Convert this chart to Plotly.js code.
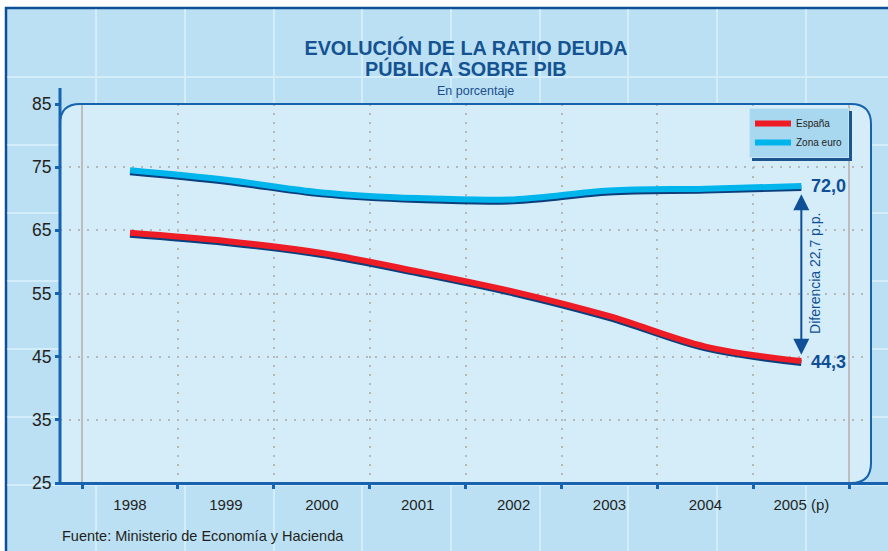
<!DOCTYPE html>
<html>
<head>
<meta charset="utf-8">
<script src="https://cdn.plot.ly/plotly-3.0.1.min.js"></script>
<style>html,body{margin:0;padding:0;background:#fff;}#chart{width:888px;height:551px;}</style>
</head>
<body>
<div id="chart"></div>
<script>
// ---- data ----
const years = ['1998', '1999', '2000', '2001', '2002', '2003', '2004', '2005 (p)'];
const espana = [64.6, 63.3, 61.4, 58.5, 55.3, 51.4, 46.6, 44.3];
const zonaEuro = [74.5, 73.0, 71.0, 70.1, 69.9, 71.3, 71.6, 72.0];
const yTicks = [25, 35, 45, 55, 65, 75, 85];
const seriesNames = ['España', 'Zona euro'];
const diffLabel = 'Diferencia 22,7 p.p.';   // as printed in the source chart

// ---- geometry helpers (pixel -> paper) ----
const W = 888, H = 551;
const mL = 60, mR = 18, mT = 104, mB = 68;
const pw = W - mL - mR, ph = H - mT - mB;
const X = px => (px - mL) / pw;
const Y = py => (H - mB - py) / ph;

const idx = years.map((_, i) => i);
const bounds = years.map((_, i) => i - 0.5).concat([years.length - 0.5]);
const xRange = [-0.73, 7.716];
const yRange = [25, 85];
const shadowShift = 0.3;

const BLUE = '#1763b0', DARK = '#0f4f97', TXT = '#231f20';
const RED = '#ee1c25', CYAN = '#00b4ec', NAVY = '#0b3f7e';
const SANS = 'Liberation Sans, Arial, sans-serif';
const NARROW = 'Liberation Sans Narrow, Arial Narrow, Liberation Sans, sans-serif';

const traces = [
  {x: idx, y: espana, xaxis: 'x', yaxis: 'y', mode: 'lines', showlegend: false, hoverinfo: 'skip',
   line: {color: NAVY, width: 6, shape: 'spline', smoothing: 1}},
  {x: idx, y: zonaEuro, xaxis: 'x', yaxis: 'y', mode: 'lines', showlegend: false, hoverinfo: 'skip',
   line: {color: NAVY, width: 6, shape: 'spline', smoothing: 1}},
  {x: idx, y: espana, xaxis: 'x2', yaxis: 'y2', mode: 'lines', name: seriesNames[0],
   line: {color: RED, width: 6, shape: 'spline', smoothing: 1}},
  {x: idx, y: zonaEuro, xaxis: 'x3', yaxis: 'y2', mode: 'lines', name: seriesNames[1],
   line: {color: CYAN, width: 6, shape: 'spline', smoothing: 1}}
];

// ---- decorative shapes ----
const shapes = [];
shapes.push({type: 'rect', xref: 'paper', yref: 'paper', layer: 'below',
  x0: X(6), x1: X(900), y0: Y(8), y1: Y(570), fillcolor: '#bbe0f4', line: {color: DARK, width: 2.5}});
[96, 185, 274, 362, 451, 540, 628, 717, 806].forEach(px => shapes.push({type: 'line', xref: 'paper', yref: 'paper', layer: 'below',
  x0: X(px), x1: X(px), y0: Y(9.5), y1: Y(560), line: {color: '#d4edfa', width: 2}}));
[77, 145, 213, 281, 349, 417, 485].forEach(py => shapes.push({type: 'line', xref: 'paper', yref: 'paper', layer: 'below',
  x0: X(7.5), x1: X(900), y0: Y(py), y1: Y(py), line: {color: '#d4edfa', width: 2}}));
const r = 20, pl = 60, pr = 871, ptop = 104, pbot = 483;
const fillPath = `M${X(pl)},${Y(pbot)} L${X(pl)},${Y(ptop + r)} Q${X(pl)},${Y(ptop)} ${X(pl + r)},${Y(ptop)} L${X(pr - r)},${Y(ptop)} Q${X(pr)},${Y(ptop)} ${X(pr)},${Y(ptop + r)} L${X(pr)},${Y(pbot - r)} Q${X(pr)},${Y(pbot)} ${X(pr - r)},${Y(pbot)} Z`;
const borderPath = `M${X(pl)},${Y(ptop + r)} Q${X(pl)},${Y(ptop)} ${X(pl + r)},${Y(ptop)} L${X(pr - r)},${Y(ptop)} Q${X(pr)},${Y(ptop)} ${X(pr)},${Y(ptop + r)} L${X(pr)},${Y(pbot - r)} Q${X(pr)},${Y(pbot)} ${X(pr - r)},${Y(pbot)}`;
shapes.push({type: 'path', xref: 'paper', yref: 'paper', layer: 'below', path: fillPath, fillcolor: '#d5edf9', line: {width: 0}});
shapes.push({type: 'path', xref: 'paper', yref: 'paper', layer: 'above', path: borderPath, line: {color: BLUE, width: 2}});
// axis line extensions
shapes.push({type: 'line', xref: 'paper', yref: 'paper', layer: 'above', x0: X(60), x1: X(60), y0: Y(483), y1: Y(88), line: {color: BLUE, width: 3}});
shapes.push({type: 'line', xref: 'paper', yref: 'paper', layer: 'above', x0: X(58), x1: X(890), y0: Y(483.5), y1: Y(483.5), line: {color: BLUE, width: 3}});
// legend shadow (resized after render to the legend box)
const legLeft = 749, legTop = 108;
shapes.push({type: 'rect', xref: 'paper', yref: 'paper', layer: 'above', x0: X(legLeft + 3), x1: X(legLeft + 96), y0: Y(legTop + 3), y1: Y(legTop + 48), fillcolor: '#1d558f', line: {width: 0}});

const fmt = v => v.toFixed(1).replace('.', ',');
const last = years.length - 1;
const annotations = [
  {text: 'PÚBLICA SOBRE PIB', xref: 'paper', yref: 'paper', x: X(466), y: Y(68), xanchor: 'center', yanchor: 'middle', showarrow: false,
   font: {family: SANS, size: 19.8, color: '#145291', weight: 'bold'}},
  {text: 'En porcentaje', xref: 'paper', yref: 'paper', x: X(475), y: Y(91), xanchor: 'center', yanchor: 'middle', showarrow: false,
   font: {family: SANS, size: 12.5, color: '#1a4f8a'}},
  {text: fmt(zonaEuro[last]), xref: 'x', yref: 'y2', x: last, y: zonaEuro[last], xanchor: 'left', yanchor: 'middle', xshift: 8, showarrow: false,
   font: {family: SANS, size: 18, color: DARK, weight: 'bold'}},
  {text: fmt(espana[last]), xref: 'x', yref: 'y2', x: last, y: espana[last], xanchor: 'left', yanchor: 'middle', xshift: 8, yshift: -1, showarrow: false,
   font: {family: SANS, size: 18, color: DARK, weight: 'bold'}},
  {text: '', xref: 'x', yref: 'y2', x: last, y: zonaEuro[last] - 1.3, axref: 'x', ayref: 'y2', ax: last, ay: espana[last] + 0.75,
   showarrow: true, arrowside: 'end+start', arrowhead: 2, startarrowhead: 2, arrowwidth: 2, arrowsize: 1.6, startarrowsize: 1.6,
   arrowcolor: DARK, standoff: 0, startstandoff: 0},
  {text: diffLabel, xref: 'x', yref: 'y2', x: last, y: (zonaEuro[last] + espana[last]) / 2,
   xshift: 13, textangle: -90, showarrow: false, xanchor: 'center', yanchor: 'middle',
   font: {family: SANS, size: 14, color: DARK}},
  {text: 'Fuente: Ministerio de Economía y Hacienda', xref: 'paper', yref: 'paper', x: X(60), y: Y(536), xanchor: 'left', yanchor: 'middle', showarrow: false,
   font: {family: SANS, size: 14.5, color: TXT}}
];

const layout = {
  width: W, height: H,
  margin: {l: mL, r: mR, t: mT, b: mB, pad: 0},
  paper_bgcolor: '#ffffff', plot_bgcolor: 'rgba(0,0,0,0)',
  title: {text: 'EVOLUCIÓN DE LA RATIO DEUDA', x: X(466), xref: 'paper', xanchor: 'center',
          y: 1 - 48.5 / H, yref: 'container', yanchor: 'middle',
          font: {family: SANS, size: 19.8, color: '#145291', weight: 'bold'}},
  showlegend: true,
  legend: {x: X(legLeft), y: Y(legTop), xanchor: 'left', yanchor: 'top', bgcolor: '#a8d7f0', bordercolor: '#c3e5f7', borderwidth: 1,
           font: {family: NARROW, size: 10, color: TXT}, itemwidth: 36, tracegroupgap: 0},
  xaxis: {range: xRange, tickmode: 'array', tickvals: idx, ticktext: years, ticks: '', showgrid: false, zeroline: false,
          showline: false, tickfont: {family: SANS, size: 15, color: TXT}, ticklabelstandoff: 11, fixedrange: true},
  xaxis2: {overlaying: 'x', anchor: 'y', range: xRange, tickmode: 'array', tickvals: bounds, ticks: 'outside', ticklen: 5, tickwidth: 3,
           tickcolor: BLUE, showticklabels: false, showgrid: true, gridcolor: '#b8b8b8', gridwidth: 2, griddash: '2px,7px',
           zeroline: false, showline: false},
  xaxis3: {overlaying: 'x', anchor: 'y', range: xRange, tickmode: 'array', tickvals: [bounds[0], bounds[bounds.length - 1]], ticks: '',
           showticklabels: false, showgrid: true, gridcolor: '#bdbdbd', gridwidth: 2, zeroline: false, showline: false},
  yaxis: {range: [yRange[0] + shadowShift, yRange[1] + shadowShift], visible: false, fixedrange: true},
  yaxis2: {overlaying: 'y', anchor: 'x', side: 'left', range: yRange, tickmode: 'array', tickvals: yTicks, ticks: 'outside', ticklen: 4,
           tickwidth: 3, tickcolor: BLUE, showline: false, showgrid: true, gridcolor: '#b8b8b8', gridwidth: 2, griddash: '2px,7px',
           zeroline: false, tickfont: {family: SANS, size: 17.5, color: TXT}},
  shapes: shapes,
  annotations: annotations
};

Plotly.newPlot('chart', traces, layout, {staticPlot: true, displayModeBar: false}).then(gd => {
  const lg = gd._fullLayout.legend;
  if (lg && lg._width && lg._height) {
    const k = shapes.length - 1;
    const upd = {};
    upd[`shapes[${k}].x1`] = X(legLeft + lg._width + 3);
    upd[`shapes[${k}].y1`] = Y(legTop + lg._height + 3);
    return Plotly.relayout(gd, upd);
  }
});
</script>
</body>
</html>
